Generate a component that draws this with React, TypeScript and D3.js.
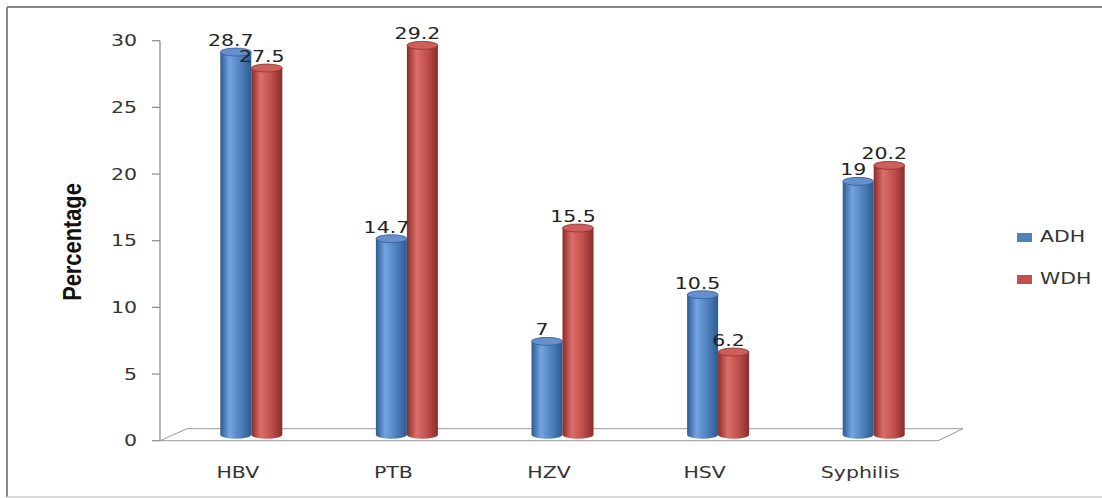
import React from "react";
import * as d3 from "d3";

const categories = ["HBV", "PTB", "HZV", "HSV", "Syphilis"];
const seriesNames = ["ADH", "WDH"];
const adhValues = [28.7, 14.7, 7, 10.5, 19];
const wdhValues = [27.5, 29.2, 15.5, 6.2, 20.2];
const adhLabels = ["28.7", "14.7", "7", "10.5", "19"];
const wdhLabels = ["27.5", "29.2", "15.5", "6.2", "20.2"];
const yTicks = [0, 5, 10, 15, 20, 25, 30];

const W = 1102;
const H = 498;
const X0 = 160;
const X1 = 938;
const DX = 27;
const DY = -12;
const FONT = "DejaVu Sans, Verdana, sans-serif";
const SX = 1.28;

const colors = {
  ADH: { edge: "#2c5b91", light: "#74a4e2", base: "#4f81bd", top: "#6590cc", stroke: "#2f5e95" },
  WDH: { edge: "#8a2c29", light: "#dc6d69", base: "#c0504d", top: "#cc5f5b", stroke: "#8e302d" },
};

export default function App() {
  const y = d3.scaleLinear().domain([0, 30]).range([440.7, 40.7]);
  const x = d3.scaleBand().domain(categories).range([X0, X1]).paddingInner(0).paddingOuter(0);
  const inner = d3.scaleBand().domain(seriesNames).range([-31, 31]);
  const barW = inner.bandwidth();
  const ry = 4;
  const series = [
    { name: "ADH", values: adhValues, labels: adhLabels },
    { name: "WDH", values: wdhValues, labels: wdhLabels },
  ];
  const floorY = y(0);
  const floorPath = d3.path();
  floorPath.moveTo(X0, floorY);
  floorPath.lineTo(X1, floorY);
  floorPath.lineTo(X1 + DX - 2, floorY + DY);
  floorPath.lineTo(X0 + DX, floorY + DY);
  floorPath.closePath();

  const txt = (tx: number, ty: number, s: string, anchor: string, key: string, fill = "#333", baseline = "alphabetic") => (
    <text
      key={key}
      transform={`translate(${tx},${ty}) scale(${SX},1)`}
      textAnchor={anchor}
      dominantBaseline={baseline}
      fontFamily={FONT}
      fontSize={16}
      fill={fill}
    >
      {s}
    </text>
  );

  return (
    <svg width={W} height={H} style={{ position: "absolute", left: 0, top: 0, background: "#fff" }}>
      <defs>
        {series.map((s) => {
          const c = colors[s.name as "ADH" | "WDH"];
          return (
            <linearGradient key={s.name} id={`g-${s.name}`} x1="0" x2="1" y1="0" y2="0">
              <stop offset="0" stopColor={c.edge} />
              <stop offset="0.3" stopColor={c.light} />
              <stop offset="0.65" stopColor={c.base} />
              <stop offset="1" stopColor={c.edge} />
            </linearGradient>
          );
        })}
      </defs>
      {/* chart border */}
      <line x1={7} y1={7} x2={W} y2={7} stroke="#888" strokeWidth={2} />
      <line x1={7} y1={7} x2={7} y2={497} stroke="#888" strokeWidth={2} />
      <line x1={7} y1={497} x2={W} y2={497} stroke="#ccc" strokeWidth={1.5} />

      {/* floor */}
      <path d={floorPath.toString()} fill="none" stroke="#999" strokeWidth={1} />
      {/* y axis */}
      <line x1={X0} y1={y(30)} x2={X0} y2={y(0)} stroke="#888" strokeWidth={1.2} />
      {yTicks.map((t) => (
        <g key={t}>
          <line x1={X0 - 8} x2={X0} y1={y(t)} y2={y(t)} stroke="#888" strokeWidth={1.2} />
          {txt(137, y(t), String(t), "end", `yt${t}`, "#333", "central")}
        </g>
      ))}

      {/* bars */}
      {categories.map((cat, i) => {
        const cx = (x(cat) as number) + x.bandwidth() / 2 + DX / 2;
        return (
          <g key={cat}>
            {series.map((s) => {
              const c = colors[s.name as "ADH" | "WDH"];
              const bx = cx + (inner(s.name) as number);
              const top = y(s.values[i]) + DY / 2;
              const bottom = y(0) + DY / 2;
              const mx = bx + barW / 2;
              return (
                <g key={s.name}>
                  <path
                    d={`M${bx},${top} L${bx},${bottom} A${barW / 2},${ry} 0 0 0 ${bx + barW},${bottom} L${bx + barW},${top} Z`}
                    fill={`url(#g-${s.name})`}
                  />
                  <ellipse cx={mx} cy={top} rx={barW / 2} ry={ry} fill={c.top} stroke={c.stroke} strokeWidth={0.8} />
                </g>
              );
            })}
          </g>
        );
      })}
      {/* data labels */}
      {categories.map((cat, i) => {
        const cx = (x(cat) as number) + x.bandwidth() / 2 + DX / 2;
        return series.map((s) => {
          const mx = cx + (inner(s.name) as number) + barW / 2 - 5;
          return txt(mx, y(s.values[i]) - 12, s.labels[i], "middle", `dl-${cat}-${s.name}`, "#222");
        });
      })}

      {/* category labels */}
      {categories.map((cat) => txt((x(cat) as number) + x.bandwidth() / 2, 478, cat, "middle", `cl-${cat}`, "#333"))}

      {/* y title */}
      <text
        transform={`translate(81,242) rotate(-90) scale(0.84,1)`}
        textAnchor="middle"
        fontFamily="Liberation Sans, Arial, sans-serif"
        fontWeight="bold"
        fontSize={26}
        fill="#111"
      >
        Percentage
      </text>

      {/* legend */}
      {series.map((s, j) => {
        const c = colors[s.name as "ADH" | "WDH"];
        const ly = 242 + j * 42;
        return (
          <g key={s.name}>
            <rect x={1017} y={ly - 9} width={15} height={9} fill={c.base} />
            {txt(1040, ly, s.name, "start", `lg-${s.name}`, "#333")}
          </g>
        );
      })}
    </svg>
  );
}
